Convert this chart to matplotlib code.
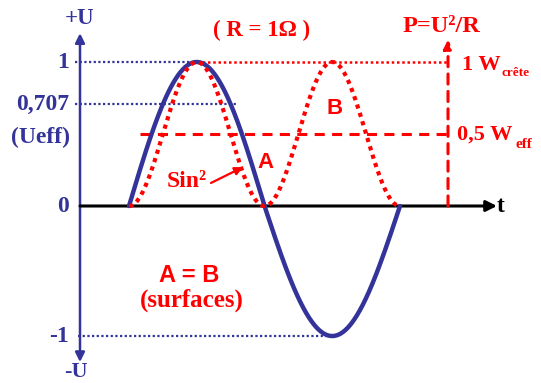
import numpy as np
import matplotlib
matplotlib.use('Agg')
import matplotlib.pyplot as plt
from matplotlib.transforms import blended_transform_factory

# ---------------- data ----------------
amplitude = 1.0                      # peak voltage (U)
period = 1.0                         # one period of the sine
level_values = [1.0, 0.707, 0.0, -1.0]
level_labels = ['1', '0,707', '0', '-1']
power_peak = 1.0                     # 1 W crête
power_eff = 0.5                      # 0,5 W eff

NAVY = '#33339a'
RED = '#ff0000'
SERIF = ['Liberation Serif', 'DejaVu Serif']
SANS = ['Liberation Sans', 'DejaVu Sans']

W, H = 541, 383
fig = plt.figure(figsize=(W / 100, H / 100), dpi=100)
ax = fig.add_axes([0, 0, 1, 1])
ax.axis('off')

# asymmetric vertical scale (negative half drawn slightly compressed)
NEG = 0.903
def fwd(y):
    y = np.asarray(y, dtype=float)
    return np.where(y >= 0, y, NEG * y)
def inv(z):
    z = np.asarray(z, dtype=float)
    return np.where(z >= 0, z, z / NEG)
ax.set_yscale('function', functions=(fwd, inv))

# pixel mapping: t=0 at x=129, t=1 at x=400 ; y=0 at 206, y=1 at 62
PX_T = 271.0
X0 = 129.0
Y0 = 206.0
PX_U = 144.0
ax.set_xlim(-X0 / PX_T, (W - X0) / PX_T)
ax.set_ylim(-((H - Y0) / PX_U) / NEG, Y0 / PX_U)

def tx(px):
    return (px - X0) / PX_T

# curves
t = np.linspace(0, period, 600)
u = amplitude * np.sin(2 * np.pi * t / period)
p = u ** 2
ax.plot(t, u, color=NAVY, lw=3.2, solid_capstyle='round', zorder=4)
ax.plot(t, p, color=RED, lw=3.0, linestyle=(0, (1.0, 1.1)), zorder=5)

# axes
y_axis_t = tx(80)
ax.annotate('', xy=(y_axis_t, 1.20), xytext=(y_axis_t, -1.20),
            arrowprops=dict(arrowstyle='<|-|>', color=NAVY, lw=1.8,
                            mutation_scale=14, shrinkA=0, shrinkB=0), zorder=3)
ax.annotate('', xy=(tx(497), 0), xytext=(y_axis_t, 0),
            arrowprops=dict(arrowstyle='-|>', color='black', lw=2.2,
                            mutation_scale=16, shrinkA=0, shrinkB=0), zorder=3)
# power axis
p_axis_t = tx(448)
ax.annotate('', xy=(p_axis_t, 1.155), xytext=(p_axis_t, 0),
            arrowprops=dict(arrowstyle='-|>', color=RED, lw=2.2, linestyle=(0, (3.3, 2.4)),
                            mutation_scale=13, shrinkA=0, shrinkB=0), zorder=3)

# reference lines
t_peak = period / 4
t_trough = 3 * period / 4
ax.plot([tx(75), t_peak], [level_values[0]] * 2, color=NAVY, lw=1.6,
        linestyle=(0, (1, 1.1)), zorder=2)
ax.plot([tx(75), tx(237)], [level_values[1]] * 2, color=NAVY, lw=1.6,
        linestyle=(0, (1, 1.1)), zorder=2)
ax.plot([tx(78), t_trough], [level_values[3]] * 2, color=NAVY, lw=1.6,
        linestyle=(0, (1, 1.1)), zorder=2)
ax.plot([t_peak, p_axis_t], [power_peak] * 2, color=RED, lw=1.8,
        linestyle=(0, (1, 1.1)), zorder=2)
ax.plot([tx(140), p_axis_t], [power_eff] * 2, color=RED, lw=2.2,
        linestyle=(0, (3.3, 2.4)), zorder=2)

# level labels
trans = blended_transform_factory(fig.transFigure, ax.transData)
for v, lab in zip(level_values, level_labels):
    ax.text(69 / W, v, lab, transform=trans, ha='right', va='center',
            fontsize=17, fontweight='bold', color=NAVY, family=SERIF)

def ftext(x, y, s, **kw):
    fig.text(x / W, 1 - y / H, s, **kw)

ftext(40, 137, '(Ueff)', ha='center', va='center', fontsize=17, fontweight='bold',
      color=NAVY, family=SERIF)
ftext(80, 19, '+U', ha='center', va='center', fontsize=16.5, fontweight='bold',
      color=NAVY, family=SERIF)
ftext(76, 372, '-U', ha='center', va='center', fontsize=16, fontweight='bold',
      color=NAVY, family=SERIF)
ftext(501, 206, 't', ha='center', va='center', fontsize=17, fontweight='bold',
      color='black', family=SERIF)

ftext(262, 30, '( R = 1Ω )', ha='center', va='center', fontsize=16.5, fontweight='bold',
      color=RED, family=SERIF)
ftext(441, 27, 'P=U²/R', ha='center', va='center', fontsize=17.5, fontweight='bold',
      color=RED, family=SERIF)
ftext(462, 65, '1 W', ha='left', va='center', fontsize=16, fontweight='bold',
      color=RED, family=SERIF)
ftext(502, 73, 'crête', ha='left', va='center', fontsize=9.5, fontweight='bold',
      color=RED, family=SERIF)
ftext(457, 135, '0,5 W', ha='left', va='center', fontsize=16, fontweight='bold',
      color=RED, family=SERIF)
ftext(515, 144, 'eff', ha='left', va='center', fontsize=11, fontweight='bold',
      color=RED, family=SERIF)

ftext(335, 109, 'B', ha='center', va='center', fontsize=16, fontweight='bold',
      color=RED, family=SANS)
ftext(266, 163, 'A', ha='center', va='center', fontsize=16, fontweight='bold',
      color=RED, family=SANS)
ftext(189, 275, 'A = B', ha='center', va='center', fontsize=17, fontweight='bold',
      color=RED, family=SANS)
ftext(192, 300, '(surfaces)', ha='center', va='center', fontsize=18, fontweight='bold',
      color=RED, family=SERIF)
ftext(187, 182, 'Sin²', ha='center', va='center', fontsize=17, fontweight='bold',
      color=RED, family=SERIF)
ax.annotate('', xy=(tx(243), 0.27), xytext=(tx(211), 0.16),
            arrowprops=dict(arrowstyle='-|>', color=RED, lw=1.6,
                            mutation_scale=12, shrinkA=0, shrinkB=0), zorder=6)

fig.savefig('out.png', dpi=100, facecolor='white')
